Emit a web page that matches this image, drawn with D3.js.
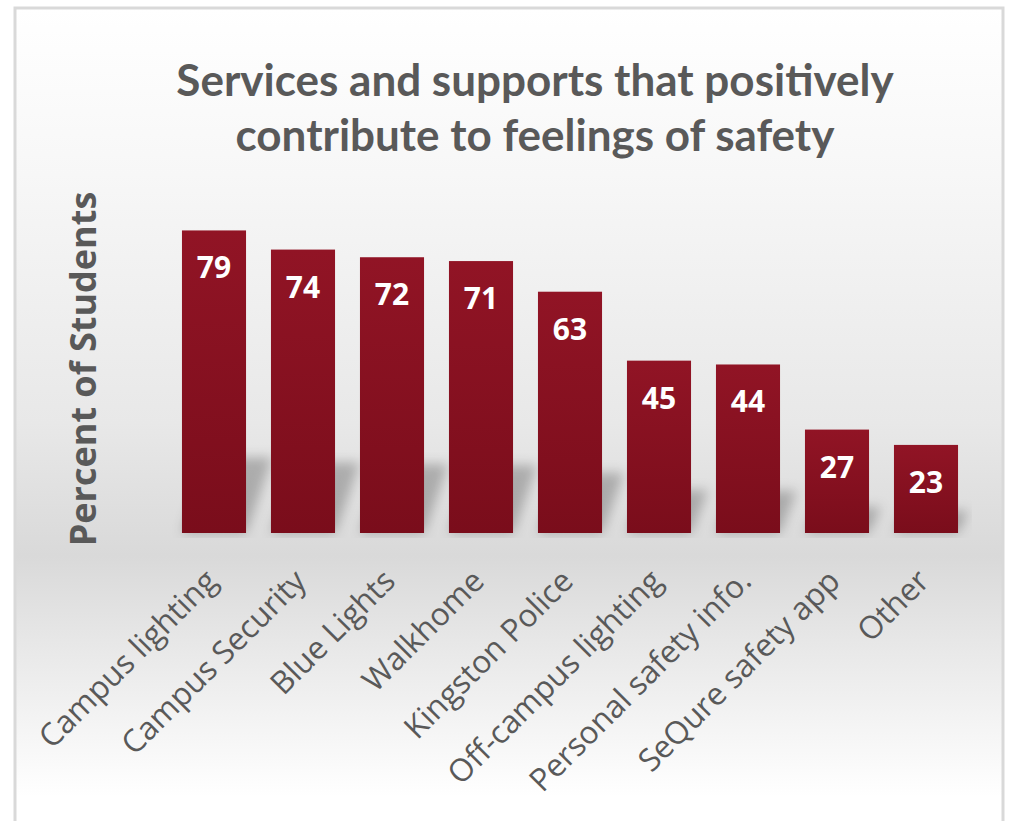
<!DOCTYPE html>
<html>
<head>
<meta charset="utf-8">
<script src="https://cdn.jsdelivr.net/npm/d3@7"></script>
<style>
  html, body { margin: 0; padding: 0; background: #ffffff; }
  svg { display: block; }
</style>
</head>
<body>
<svg id="chart" width="1009" height="821"></svg>
<script>
// Survey results: share of students naming each service/support
const categories = [
  "Campus lighting", "Campus Security", "Blue Lights", "Walkhome",
  "Kingston Police", "Off-campus lighting", "Personal safety info.",
  "SeQure safety app", "Other"
];
const percents = [79, 74, 72, 71, 63, 45, 44, 27, 23];
const titleLines = [
  "Services and supports that positively",
  "contribute to feelings of safety"
];
const yAxisTitle = "Percent of Students";

const svg = d3.select("#chart");
const defs = svg.append("defs");

// Chart area background: light at top, grey band near the axis, light again at bottom
const bg = defs.append("linearGradient")
  .attr("id", "bgGrad").attr("gradientUnits", "userSpaceOnUse")
  .attr("x1", 0).attr("y1", 8).attr("x2", 0).attr("y2", 838);
[[0, "#ffffff"], [0.2, "#f7f7f7"], [0.5, "#e8e8e8"], [0.66, "#d9d9d9"],
 [0.8, "#ececec"], [0.95, "#ffffff"]].forEach(([o, c]) =>
  bg.append("stop").attr("offset", o).attr("stop-color", c));

// Bar fill: deep red, a little darker toward the base
const barGrad = defs.append("linearGradient")
  .attr("id", "barGrad").attr("x1", 0).attr("y1", 0).attr("x2", 0).attr("y2", 1);
barGrad.append("stop").attr("offset", 0).attr("stop-color", "#911425");
barGrad.append("stop").attr("offset", 1).attr("stop-color", "#7a0d1b");

defs.append("filter").attr("id", "shadowBlur")
  .attr("x", "-50%").attr("y", "-50%").attr("width", "200%").attr("height", "200%")
  .append("feGaussianBlur").attr("stdDeviation", 6);

svg.append("rect")
  .attr("x", 15).attr("y", 8).attr("width", 988).attr("height", 830)
  .attr("fill", "url(#bgGrad)")
  .attr("stroke", "#d9d9d9").attr("stroke-width", 3);

// Scales
const x = d3.scaleBand()
  .domain(categories)
  .range([169.5, 970.5])
  .paddingInner(0.28)
  .paddingOuter(0.14);

const y = d3.scaleLinear().domain([0, 100]).range([533, 150]);

const data = categories.map((c, i) => ({ cat: c, val: percents[i] }));

// Plot-area clip for the cast shadows
defs.append("clipPath").attr("id", "plotClip")
  .append("rect").attr("x", 160).attr("y", 140).attr("width", 812).attr("height", 398);

// Perspective shadow cast up and to the right behind each bar
const shadowG = svg.append("g").attr("clip-path", "url(#plotClip)");
shadowG.selectAll("polygon")
  .data(data)
  .join("polygon")
  .attr("points", d => {
    const x0 = x(d.cat), x1 = x0 + x.bandwidth();
    const base = y(0);
    const hs = (y(0) - y(d.val)) * 0.25;
    const sk = hs * 0.3 + 4;
    return [[x0, base], [x1, base], [x1 + sk, base - hs], [x0 + sk, base - hs]]
      .map(p => p.join(",")).join(" ");
  })
  .attr("fill", "#000")
  .attr("fill-opacity", 0.24)
  .attr("filter", "url(#shadowBlur)");

// Bars
svg.append("g").selectAll("rect")
  .data(data)
  .join("rect")
  .attr("x", d => x(d.cat))
  .attr("y", d => y(d.val))
  .attr("width", x.bandwidth())
  .attr("height", d => y(0) - y(d.val))
  .attr("fill", "url(#barGrad)");

// Value labels inside the top of each bar
svg.append("g").selectAll("text")
  .data(data)
  .join("text")
  .attr("x", d => x(d.cat) + x.bandwidth() / 2)
  .attr("y", d => y(d.val) + 48)
  .attr("text-anchor", "middle")
  .attr("font-family", "'Open Sans', sans-serif")
  .attr("font-weight", 700)
  .attr("font-size", 30)
  .attr("fill", "#ffffff")
  .text(d => d.val);

// Category axis (no line or ticks, rotated labels)
const xAxis = svg.append("g")
  .attr("transform", `translate(0, ${y(0)})`)
  .call(d3.axisBottom(x).tickSize(0).tickPadding(0));
xAxis.select(".domain").remove();
xAxis.attr("font-family", null).attr("font-size", null);
xAxis.selectAll(".tick text")
  .attr("font-family", "'Open Sans', sans-serif")
  .attr("font-size", 31.5)
  .attr("fill", "#595959")
  .attr("text-anchor", "end")
  .attr("dy", null)
  .attr("y", null)
  .attr("transform", "translate(5, 50) rotate(-45)");

// Axis title
svg.append("text")
  .attr("transform", "translate(96, 369) rotate(-90)")
  .attr("text-anchor", "middle")
  .attr("font-family", "'Open Sans', sans-serif")
  .attr("font-weight", 700)
  .attr("font-size", 36)
  .attr("fill", "#595959")
  .text(yAxisTitle);

// Chart title
svg.append("g").selectAll("text")
  .data(titleLines)
  .join("text")
  .attr("x", 535)
  .attr("y", (d, i) => 96 + i * 55)
  .attr("text-anchor", "middle")
  .attr("font-family", "Lato, 'Open Sans', sans-serif")
  .attr("font-weight", 700)
  .attr("font-size", 44)
  .attr("fill", "#595959")
  .text(d => d);
</script>
</body>
</html>
